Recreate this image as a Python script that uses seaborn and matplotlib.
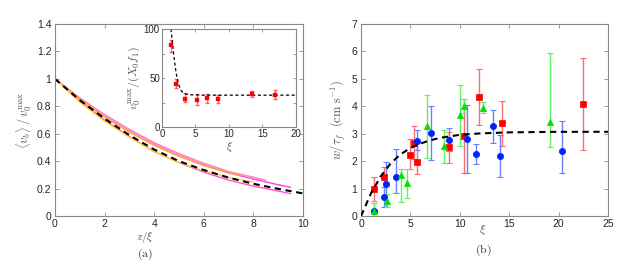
import numpy as np
import pandas as pd
import matplotlib
matplotlib.use('Agg')
import matplotlib.pyplot as plt
import seaborn as sns

# ---- panel (a): velocity profiles ----
z_long = [0, 1, 2, 3, 4, 5, 6, 7, 8, 9, 9.5]
z_85 = [0, 1, 2, 3, 4, 5, 6, 7, 8, 8.5]
z_8 = [0, 1, 2, 3, 4, 5, 6, 7, 8]
z_75 = [0, 1, 2, 3, 4, 5, 6, 7, 7.5]

curve_upper = [1.0, 0.86, 0.735, 0.625, 0.525, 0.445, 0.375, 0.315, 0.27, 0.228, 0.21]
curve_lower = [1.0, 0.84, 0.70, 0.58, 0.47, 0.39, 0.32, 0.262, 0.218, 0.182, 0.163]
curve_pink = [1.0, 0.86, 0.74, 0.632, 0.535, 0.455, 0.385, 0.325, 0.283, 0.262]
curve_rose = [1.0, 0.855, 0.73, 0.622, 0.525, 0.445, 0.378, 0.322, 0.28]
curve_orange = [1.0, 0.85, 0.722, 0.612, 0.515, 0.435, 0.368, 0.315, 0.295]
curve_yellow = [1.0, 0.83, 0.692, 0.575, 0.468, 0.39, 0.33, 0.28, 0.248]

fit_z = [0, 1, 2, 3, 4, 5, 6, 7, 8, 9, 10]
fit_v = [1.0, 0.845, 0.71, 0.59, 0.485, 0.40, 0.335, 0.28, 0.235, 0.198, 0.165]

# inset
inset_xi = [1.39, 2.13, 3.47, 5.16, 6.7, 8.29, 13.4, 16.8]
inset_v = [83.2, 43.8, 28.8, 27.7, 29.8, 28.4, 33.9, 32.9]
inset_lo = [77.0, 39.4, 25.3, 22.0, 25.0, 24.0, 31.0, 28.5]
inset_hi = [88.4, 49.0, 35.0, 33.6, 34.0, 33.0, 37.0, 37.5]
inset_fit_xi = [1.33, 1.5, 1.75, 2.0, 2.25, 2.5, 2.75, 3.0, 3.5, 4.0, 6.0, 20.0]
inset_fit_v = [100, 90, 74, 60, 50, 43, 38.5, 36, 33.8, 33.0, 32.5, 32.5]

# ---- panel (b): w / tau_f versus xi ----
red_xi = [1.32, 2.33, 4.96, 5.40, 5.70, 8.9, 10.43, 11.98, 14.3, 22.5]
red_w = [1.0, 1.43, 2.24, 2.67, 1.98, 2.51, 2.9, 4.34, 3.38, 4.08]
red_lo = [0.54, 1.07, 1.70, 2.09, 1.52, 1.95, 1.55, 3.33, 2.55, 2.4]
red_hi = [1.44, 1.79, 2.79, 3.29, 2.65, 3.07, 4.28, 5.35, 4.2, 5.76]

blue_xi = [1.32, 2.33, 2.56, 3.58, 5.70, 7.05, 8.94, 10.76, 11.64, 13.33, 14.03, 20.3]
blue_w = [0.2, 0.69, 1.18, 1.42, 2.72, 3.04, 2.76, 2.8, 2.25, 3.28, 2.18, 2.37]
blue_lo = [0.0, 0.33, 0.34, 0.83, 2.41, 2.04, 2.38, 1.55, 1.88, 2.66, 1.43, 1.55]
blue_hi = [0.49, 1.37, 1.97, 2.45, 3.12, 4.02, 3.2, 4.05, 2.63, 3.88, 2.97, 3.46]

green_xi = [1.32, 2.67, 4.0, 4.62, 6.65, 8.37, 9.99, 10.43, 12.38, 19.13]
green_w = [0.2, 0.54, 1.49, 1.19, 3.28, 2.56, 3.68, 4.0, 3.95, 3.42]
green_lo = [0.0, 0.34, 0.52, 0.64, 2.10, 1.92, 2.55, 3.74, 3.75, 2.53]
green_hi = [0.46, 0.80, 1.71, 1.71, 4.42, 3.15, 4.78, 4.28, 4.16, 5.95]

fit_xi = [0, 1, 2, 3, 4, 5, 6, 7, 8, 10, 12, 15, 20, 25]
fit_w = [0.0, 0.82, 1.45, 1.92, 2.25, 2.48, 2.64, 2.76, 2.85, 2.96, 3.01, 3.05, 3.07, 3.07]

sns.set_style('ticks')
plt.rcParams['font.family'] = ['Liberation Sans', 'DejaVu Sans']
plt.rcParams['mathtext.fontset'] = 'cm'
plt.rcParams['xtick.direction'] = 'in'
plt.rcParams['ytick.direction'] = 'in'

LABEL_GREY = '#555555'
SPINE_GREY = '#888888'


def style_axes(ax, size=7.5):
    ax.tick_params(top=True, right=True, labelsize=size, length=3, width=0.6,
                   color=SPINE_GREY, pad=2.5)
    for s in ax.spines.values():
        s.set_color(SPINE_GREY)
        s.set_linewidth(0.8)


fig = plt.figure(figsize=(6.39, 2.67), dpi=100)
ax_a = fig.add_axes([0.086, 0.191, 0.388, 0.719])
ax_b = fig.add_axes([0.565, 0.191, 0.3865, 0.719])
ax_in = fig.add_axes([0.2535, 0.5243, 0.2097, 0.367])

# panel (a) curves
curves = [
    ('c1', z_long, curve_upper, '#ff3ce6'),
    ('c2', z_long, curve_lower, '#ff55d2'),
    ('c3', z_85, curve_pink, '#ff7fc8'),
    ('c4', z_8, curve_rose, '#ff96b4'),
    ('c5', z_75, curve_orange, '#ffa03c'),
    ('c6', z_8, curve_yellow, '#ffd23c'),
]
rows = []
for name, zz, vv, _ in curves:
    for zi, vi in zip(zz, vv):
        rows.append({'curve': name, 'z': zi, 'v': vi})
df_a = pd.DataFrame(rows)
pal = {name: col for name, _, _, col in curves}
sns.lineplot(data=df_a, x='z', y='v', hue='curve', palette=pal, lw=1.0,
             legend=False, ax=ax_a, sort=False, estimator=None)
ax_a.plot(fit_z, fit_v, color='black', ls=(0, (3, 2.2)), lw=1.5)
ax_a.set_xlim(0, 10)
ax_a.set_ylim(0, 1.4)
ax_a.set_xticks([0, 2, 4, 6, 8, 10])
ax_a.set_yticks([0, 0.2, 0.4, 0.6, 0.8, 1.0, 1.2, 1.4])
ax_a.set_yticklabels(['0', '0.2', '0.4', '0.6', '0.8', '1', '1.2', '1.4'])
ax_a.set_xlabel('')
ax_a.set_ylabel(r'$\langle v_b\rangle\,/\,v_0^{\max}$', fontsize=9,
                color=LABEL_GREY, labelpad=2)
style_axes(ax_a)

# inset
ax_in.errorbar(inset_xi, inset_v,
               yerr=[np.subtract(inset_v, inset_lo), np.subtract(inset_hi, inset_v)],
               fmt='none', ecolor='#ff4040', elinewidth=1.0, capsize=1.5, alpha=0.8)
sns.scatterplot(x=inset_xi, y=inset_v, marker='s', color='red', s=10,
                edgecolor='red', ax=ax_in, zorder=3)
ax_in.plot(inset_fit_xi, inset_fit_v, color='black', ls=(0, (2.5, 2)), lw=0.9)
ax_in.set_xlim(0, 20)
ax_in.set_ylim(0, 100)
ax_in.set_xticks([0, 5, 10, 15, 20])
ax_in.set_yticks([0, 25, 50, 75, 100])
ax_in.set_yticklabels(['0', '', '50', '', '100'])
ax_in.set_xlabel(r'$\xi$', fontsize=8, color=LABEL_GREY, labelpad=1)
ax_in.set_ylabel(r'$v_0^{\max}/(X_0 f_1)$', fontsize=8.5, color=LABEL_GREY,
                 labelpad=1)
style_axes(ax_in, size=7)
ax_in.tick_params(pad=1.5, length=2.5)

# panel (b)
series = [
    (red_xi, red_w, red_lo, red_hi, 's', '#ff0000', '#ff6a6a', 16),
    (blue_xi, blue_w, blue_lo, blue_hi, 'o', '#0022ff', '#6a80ff', 20),
    (green_xi, green_w, green_lo, green_hi, '^', '#00e000', '#60f060', 20),
]
for xs, ys, lo, hi, mk, col, ecol, size in series:
    ax_b.errorbar(xs, ys, yerr=[np.subtract(ys, lo), np.subtract(hi, ys)],
                  fmt='none', ecolor=ecol, elinewidth=1.0, capsize=2, capthick=0.8)
    sns.scatterplot(x=xs, y=ys, marker=mk, color=col, s=size, edgecolor=col,
                    linewidth=0.5, ax=ax_b, zorder=3)
ax_b.plot(fit_xi, fit_w, color='black', ls=(0, (3, 2.2)), lw=1.5, zorder=4)
ax_b.set_xlim(0, 25)
ax_b.set_ylim(0, 7)
ax_b.set_xticks([0, 5, 10, 15, 20, 25])
ax_b.set_yticks(range(8))
ax_b.set_ylabel(r'$w/\tau_f\ \ (\mathrm{cm\ s}^{-1})$', fontsize=9,
                color=LABEL_GREY, labelpad=3)
style_axes(ax_b)

fig.text(145 / 639, 1 - 237 / 267, r'$z/\xi$', ha='center', va='center',
         fontsize=8, color=LABEL_GREY)
fig.text(145 / 639, 1 - 254 / 267, r'$\mathrm{(a)}$', ha='center', va='center',
         fontsize=8.5, color='#333333')
fig.text(483 / 639, 1 - 230 / 267, r'$\xi$', ha='center', va='center',
         fontsize=8.5, color=LABEL_GREY)
fig.text(483 / 639, 1 - 250 / 267, r'$\mathrm{(b)}$', ha='center', va='center',
         fontsize=8.5, color='#333333')

fig.savefig('out.png', dpi=100)
